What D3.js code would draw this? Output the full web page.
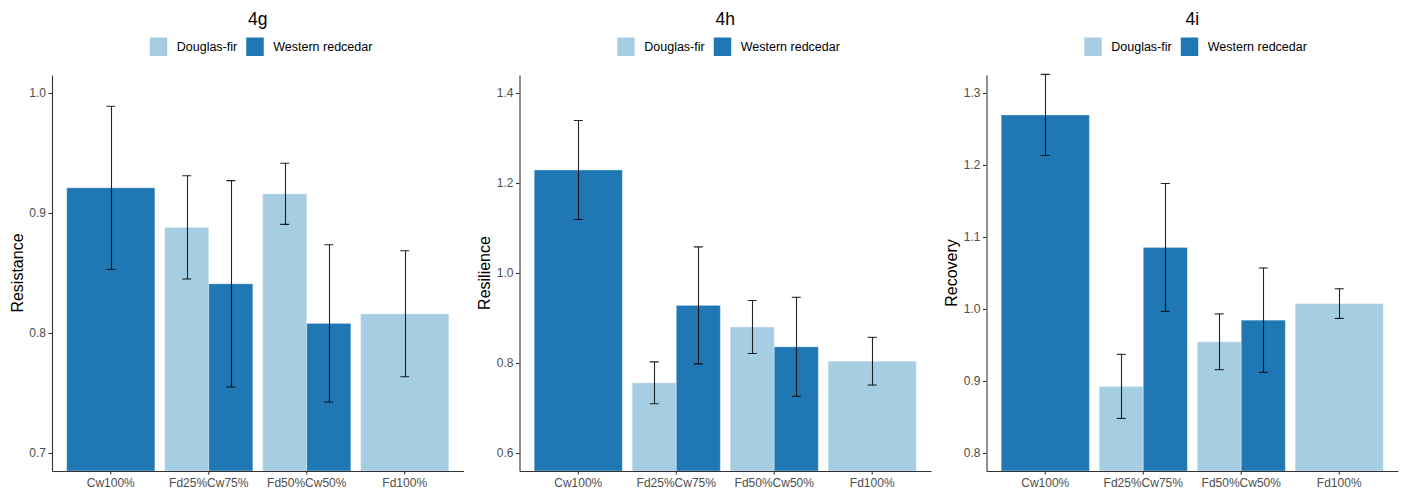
<!DOCTYPE html>
<html>
<head>
<meta charset="utf-8">
<script src="https://cdn.jsdelivr.net/npm/d3@7"></script>
<style>
  html, body { margin: 0; padding: 0; background: #fff; }
  svg { display: block; font-family: "Liberation Sans", Arial, sans-serif; }
</style>
</head>
<body>
<svg id="chart" width="1405" height="495"></svg>
<script>
// Mixture treatments and species
const categories = ["Cw100%", "Fd25%Cw75%", "Fd50%Cw50%", "Fd100%"];
const species = ["Douglas-fir", "Western redcedar"];
const speciesColors = ["#A6CEE3", "#1F78B4"];

// Resistance (mean and error half-width); null = species absent in the mixture
const resistanceFd    = [null, 0.888, 0.916, 0.816];
const resistanceFdErr = [null, 0.043, 0.0255, 0.0525];
const resistanceCw    = [0.921, 0.841, 0.808, null];
const resistanceCwErr = [0.068, 0.086, 0.0655, null];

// Resilience
const resilienceFd    = [null, 0.756, 0.880, 0.804];
const resilienceFdErr = [null, 0.0465, 0.059, 0.053];
const resilienceCw    = [1.229, 0.928, 0.836, null];
const resilienceCwErr = [0.110, 0.130, 0.110, null];

// Recovery
const recoveryFd    = [null, 0.8925, 0.9545, 1.0075];
const recoveryFdErr = [null, 0.0445, 0.0387, 0.0206];
const recoveryCw    = [1.2695, 1.0855, 0.9845, null];
const recoveryCwErr = [0.0563, 0.0888, 0.0725, null];

// Panel titles, axis titles, y limits and tick labels
const panelTitles = ["4g", "4h", "4i"];
const yTitles = ["Resistance", "Resilience", "Recovery"];
const yLimits = [[0.7, 1.0], [0.6, 1.4], [0.8, 1.3]];
const yTicks = [
  [0.7, 0.8, 0.9, 1.0],
  [0.6, 0.8, 1.0, 1.2, 1.4],
  [0.8, 0.9, 1.0, 1.1, 1.2, 1.3]
];

const panels = [
  { fd: resistanceFd, fdErr: resistanceFdErr, cw: resistanceCw, cwErr: resistanceCwErr },
  { fd: resilienceFd, fdErr: resilienceFdErr, cw: resilienceCw, cwErr: resilienceCwErr },
  { fd: recoveryFd,   fdErr: recoveryFdErr,   cw: recoveryCw,   cwErr: recoveryCwErr }
];

const svg = d3.select("#chart");
const panelLeft = [52, 519.5, 986.5];
const panelWidth = 411.5;
const plotTop = 75, plotBottom = 471;
const expand = 0.05;
const capWidth = 9;

panels.forEach((p, i) => {
  const x0 = panelLeft[i], x1 = x0 + panelWidth;
  const [lo, hi] = yLimits[i];
  const pad = (hi - lo) * expand;

  const x = d3.scaleBand()
    .domain(categories)
    .range([x0, x1])
    .paddingInner(0.1)
    .paddingOuter(0.15);

  const y = d3.scaleLinear()
    .domain([lo - pad, hi + pad])
    .range([plotBottom, plotTop]);

  const g = svg.append("g");

  const clipId = "clip" + i;
  svg.append("clipPath").attr("id", clipId)
    .append("rect").attr("x", x0).attr("y", plotTop - 2)
    .attr("width", panelWidth).attr("height", plotBottom - plotTop + 2);

  // Build one record per drawn bar
  const rows = [];
  categories.forEach((c, k) => {
    const present = [];
    if (p.fd[k] != null) present.push({ s: 0, v: p.fd[k], e: p.fdErr[k] });
    if (p.cw[k] != null) present.push({ s: 1, v: p.cw[k], e: p.cwErr[k] });
    const sub = d3.scaleBand()
      .domain(present.map(d => species[d.s]))
      .range([0, x.bandwidth()]);
    present.forEach(d => {
      rows.push({
        cat: c, s: d.s, v: d.v, e: d.e,
        x: x(c) + sub(species[d.s]), w: sub.bandwidth()
      });
    });
  });

  const plot = g.append("g").attr("clip-path", `url(#${clipId})`);

  plot.selectAll("rect.bar")
    .data(rows)
    .join("rect")
    .attr("class", "bar")
    .attr("x", d => d.x)
    .attr("width", d => d.w)
    .attr("y", d => y(d.v))
    .attr("height", d => plotBottom - y(d.v))
    .attr("fill", d => speciesColors[d.s])
    .attr("stroke", "#ffffff")
    .attr("stroke-opacity", 0.35)
    .attr("stroke-width", 1);

  // Error bars
  const eb = plot.selectAll("g.err")
    .data(rows)
    .join("g")
    .attr("class", "err")
    .attr("stroke", "#000")
    .attr("stroke-opacity", 0.85)
    .attr("stroke-width", 1.1);

  eb.append("line")
    .attr("x1", d => Math.round(d.x + d.w / 2) + 0.5)
    .attr("x2", d => Math.round(d.x + d.w / 2) + 0.5)
    .attr("y1", d => y(d.v + d.e))
    .attr("y2", d => y(d.v - d.e));
  eb.append("line")
    .attr("x1", d => d.x + d.w / 2 - capWidth / 2)
    .attr("x2", d => d.x + d.w / 2 + capWidth / 2)
    .attr("y1", d => y(d.v + d.e))
    .attr("y2", d => y(d.v + d.e));
  eb.append("line")
    .attr("x1", d => d.x + d.w / 2 - capWidth / 2)
    .attr("x2", d => d.x + d.w / 2 + capWidth / 2)
    .attr("y1", d => y(d.v - d.e))
    .attr("y2", d => y(d.v - d.e));

  // Axes
  const yAxis = g.append("g")
    .attr("transform", `translate(${x0},0)`)
    .call(d3.axisLeft(y).tickValues(yTicks[i]).tickFormat(d3.format(".1f"))
      .tickSize(3.5).tickSizeOuter(0).tickPadding(2.5));
  const xAxis = g.append("g")
    .attr("transform", `translate(0,${plotBottom})`)
    .call(d3.axisBottom(x).tickSize(3.5).tickSizeOuter(0).tickPadding(4));

  [yAxis, xAxis].forEach(a => {
    a.select(".domain").attr("stroke", "#333").attr("stroke-width", 1.1);
    a.selectAll(".tick line").attr("stroke", "#333").attr("stroke-width", 1.1);
    a.selectAll(".tick text").attr("fill", "#4D4D4D").style("font-size", "12px")
      .style("font-family", "'Liberation Sans', Arial, sans-serif");
  });

  // Axis title
  g.append("text")
    .attr("transform", `translate(${x0 - 35},${(plotTop + plotBottom) / 2}) rotate(-90)`)
    .attr("text-anchor", "middle")
    .attr("dominant-baseline", "central")
    .style("font-size", "16px")
    .attr("fill", "#000")
    .text(yTitles[i]);

  // Panel title
  const cx = (x0 + x1) / 2;
  g.append("text")
    .attr("x", cx)
    .attr("y", 25)
    .attr("text-anchor", "middle")
    .style("font-size", "17.5px")
    .attr("fill", "#000")
    .text(panelTitles[i]);

  // Legend
  const leg = g.append("g").attr("transform", `translate(${cx - 108},37.5)`);
  const legOffsets = [[0, 27], [96.5, 123.5]];
  species.forEach((s, k) => {
    leg.append("rect")
      .attr("x", legOffsets[k][0]).attr("y", 0)
      .attr("width", 17.5).attr("height", 18.5)
      .attr("fill", speciesColors[k]);
    leg.append("text")
      .attr("x", legOffsets[k][1]).attr("y", 9.5)
      .attr("dominant-baseline", "central")
      .style("font-size", "12.5px")
      .attr("fill", "#000")
      .text(s);
  });
});
</script>
</body>
</html>
